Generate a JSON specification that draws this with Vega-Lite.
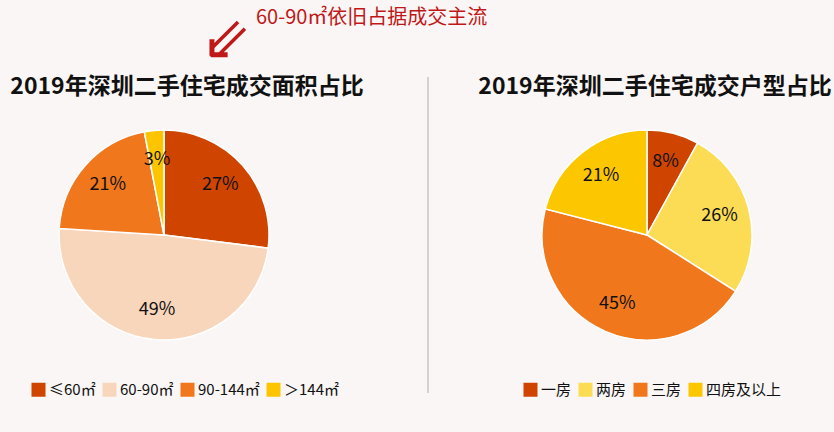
{
  "$schema": "https://vega.github.io/schema/vega-lite/v6.json",
  "background": "#f9f6f5",
  "padding": {"left": 5, "top": 8, "right": 8, "bottom": 36},
  "title": {"text": "60-90㎡依旧占据成交主流", "anchor": "start", "dx": 251, "fontSize": 20, "font": "Noto Sans CJK SC", "fontWeight": "normal", "color": "#c01818", "offset": -17},
  "config": {
    "view": {"stroke": null},
    "font": "Noto Sans CJK SC",
    "legend": {"labelFont": "Noto Sans CJK SC", "labelFontSize": 15, "labelColor": "#111", "symbolType": "square", "symbolSize": 196, "symbolStrokeWidth": 0, "columnPadding": 6, "labelOffset": 3, "direction": "horizontal"}
  },
  "spacing": 105,
  "bounds": "flush",
  "center": true,
  "resolve": {"scale": {"color": "independent", "theta": "independent"}, "legend": {"color": "independent"}},
  "hconcat": [
    {
      "width": 318,
      "height": 210,
      "title": {"text": "2019年深圳二手住宅成交面积占比", "dx": 23, "fontSize": 23, "fontWeight": "bold", "color": "#111", "offset": 28},
      "data": {"values": [
        {"i": 1, "cat": "≤60㎡", "pct": 27, "lab": "27%"},
        {"i": 2, "cat": "60-90㎡", "pct": 49, "lab": "49%"},
        {"i": 3, "cat": "90-144㎡", "pct": 21, "lab": "21%"},
        {"i": 4, "cat": "＞144㎡", "pct": 3, "lab": "3%"}
      ]},
      "encoding": {
        "theta": {"field": "pct", "type": "quantitative", "stack": true},
        "order": {"field": "i", "type": "quantitative"},
        "color": {"field": "cat", "type": "nominal",
          "scale": {"domain": ["≤60㎡", "60-90㎡", "90-144㎡", "＞144㎡"], "range": ["#cf4500", "#f8d6bb", "#f0771c", "#fdc400"]},
          "legend": {"orient": "none", "title": null, "legendX": 26, "legendY": 252}}
      },
      "layer": [
        {"mark": {"type": "arc", "outerRadius": 105, "stroke": "#ffffff", "strokeWidth": 1.5}},
        {"mark": {"type": "text", "radius": 75, "fontSize": 18}, "encoding": {"text": {"field": "lab", "type": "nominal"}, "color": {"value": "#111111"}}}
      ]
    },
    {
      "width": 1,
      "height": 316,
      "title": {"text": "⇙", "fontSize": 60, "color": "#c01818", "dx": -202, "fontWeight": "normal", "offset": 4, "font": "DejaVu Sans"},
      "data": {"values": [{}]},
      "mark": {"type": "rule", "color": "#c4c4c4", "strokeWidth": 1.5},
      "encoding": {"x": {"datum": 0, "type": "quantitative", "axis": null}}
    },
    {
      "width": 226,
      "height": 210,
      "title": {"text": "2019年深圳二手住宅成交户型占比", "dx": 8, "fontSize": 23, "fontWeight": "bold", "color": "#111", "offset": 28},
      "data": {"values": [
        {"i": 1, "cat": "一房", "pct": 8, "lab": "8%"},
        {"i": 2, "cat": "两房", "pct": 26, "lab": "26%"},
        {"i": 3, "cat": "三房", "pct": 45, "lab": "45%"},
        {"i": 4, "cat": "四房及以上", "pct": 21, "lab": "21%"}
      ]},
      "encoding": {
        "theta": {"field": "pct", "type": "quantitative", "stack": true},
        "order": {"field": "i", "type": "quantitative"},
        "color": {"field": "cat", "type": "nominal",
          "scale": {"domain": ["一房", "两房", "三房", "四房及以上"], "range": ["#cf4500", "#fcdc55", "#f0771c", "#fdc700"]},
          "legend": {"orient": "none", "title": null, "legendX": -11, "legendY": 252}}
      },
      "layer": [
        {"mark": {"type": "arc", "outerRadius": 105, "stroke": "#ffffff", "strokeWidth": 1.5}},
        {"mark": {"type": "text", "radius": 75, "fontSize": 18}, "encoding": {"text": {"field": "lab", "type": "nominal"}, "color": {"value": "#111111"}}}
      ]
    }
  ]
}
